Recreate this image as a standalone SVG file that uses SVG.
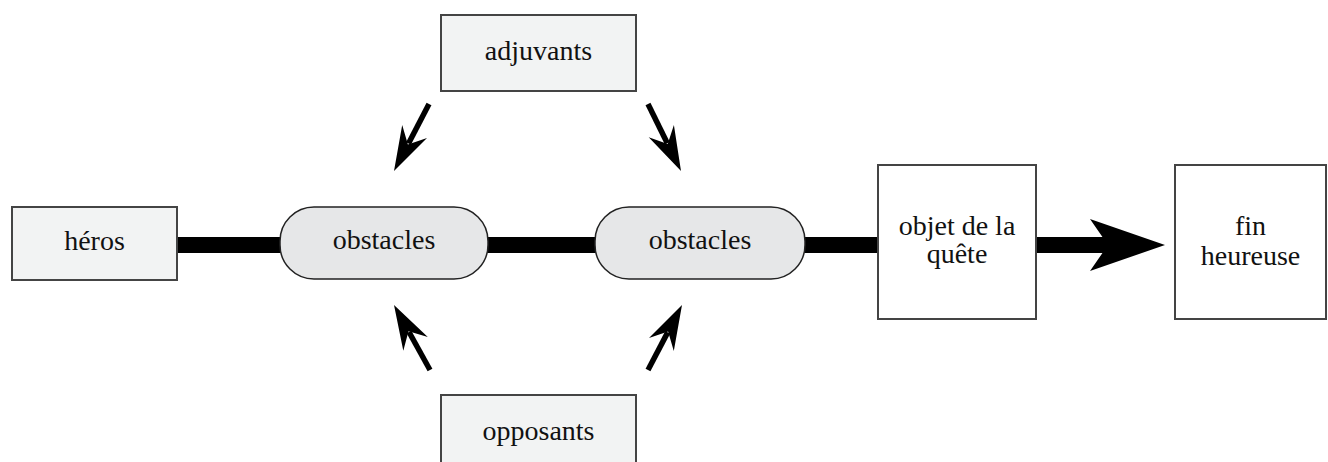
<svg xmlns="http://www.w3.org/2000/svg" width="1328" height="462" viewBox="0 0 1328 462">
<style>
text{font-family:"Liberation Serif","Times New Roman",Times,serif;font-size:28px;fill:#111;text-anchor:middle}
.box{fill:#f2f3f3;stroke:#444;stroke-width:2}
.wbox{fill:#fff;stroke:#444;stroke-width:2}
.pill{fill:#e6e7e8;stroke:#222;stroke-width:1.5}
.thin{stroke:#000;stroke-width:5.5;fill:none}
.head{fill:#000;stroke:none}
</style>
<g id="connectors">
<line x1="177" y1="245" x2="1110" y2="245" stroke="#000" stroke-width="16"/>
<polygon class="head" points="1165,245 1090,219 1108,245 1090,271"/>
<line class="thin" x1="429" y1="104" x2="408.5" y2="143.5"/>
<polygon class="head" points="394,171 427,138.1 407.9,144.4 402.2,125.1"/>
<line class="thin" x1="648" y1="104" x2="667.3" y2="143.3"/>
<polygon class="head" points="681,171 673.9,124.9 667.7,144.1 648.7,137.3"/>
<line class="thin" x1="430" y1="370" x2="409" y2="332"/>
<polygon class="head" points="394,305 427.8,337.1 408.5,331.2 403.3,350.7"/>
<line class="thin" x1="648" y1="370" x2="667.7" y2="332.4"/>
<polygon class="head" points="682,305 673.8,350.9 668.1,331.6 649,337.9"/>
</g>
<g id="heros">
<rect class="box" x="12" y="207" width="165" height="73"/>
<text x="94.5" y="250" font-family="Liberation Serif, serif">héros</text>
</g>
<g id="obstacles1">
<rect class="pill" x="280" y="207" width="208" height="72" rx="34" ry="34"/>
<text x="384" y="249" font-family="Liberation Serif, serif">obstacles</text>
</g>
<g id="obstacles2">
<rect class="pill" x="595" y="207" width="210" height="72" rx="34" ry="34"/>
<text x="700" y="249" font-family="Liberation Serif, serif">obstacles</text>
</g>
<g id="adjuvants">
<rect class="box" x="441" y="15" width="195" height="76"/>
<text x="538.5" y="60" font-family="Liberation Serif, serif">adjuvants</text>
</g>
<g id="opposants">
<rect class="box" x="441" y="395" width="195" height="80"/>
<text x="538.5" y="440" font-family="Liberation Serif, serif">opposants</text>
</g>
<g id="objet">
<rect class="wbox" x="878" y="165" width="158" height="154"/>
<text x="957" y="235" font-family="Liberation Serif, serif">objet de la</text>
<text x="957" y="263" font-family="Liberation Serif, serif">quête</text>
</g>
<g id="fin">
<rect class="wbox" x="1175" y="165" width="151" height="154"/>
<text x="1250.5" y="235" font-family="Liberation Serif, serif">fin</text>
<text x="1250.5" y="265" font-family="Liberation Serif, serif">heureuse</text>
</g>
</svg>
